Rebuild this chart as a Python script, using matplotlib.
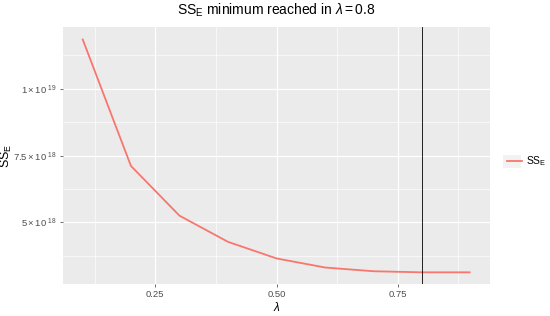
import matplotlib
matplotlib.use("Agg")
import matplotlib.pyplot as plt
from matplotlib.lines import Line2D
from matplotlib.patches import Rectangle
from matplotlib.ticker import FixedLocator

plt.rcParams["font.family"] = ["Liberation Sans", "DejaVu Sans"]
plt.rcParams["mathtext.fontset"] = "custom"
plt.rcParams["mathtext.rm"] = "Liberation Sans"
plt.rcParams["mathtext.it"] = "Liberation Sans:italic"
plt.rcParams["mathtext.bf"] = "Liberation Sans:bold"

lam = [0.1, 0.2, 0.3, 0.4, 0.5, 0.6, 0.7, 0.8, 0.9]
sse = [1.187e19, 7.11e18, 5.25e18, 4.27e18, 3.65e18, 3.31e18, 3.17e18, 3.13e18, 3.13e18]
best_lambda = 0.8
x_ticks = [0.25, 0.50, 0.75]
x_tick_labels = ["0.25", "0.50", "0.75"]
y_ticks = [5e18, 7.5e18, 1e19]
y_tick_labels = [r"$\mathrm{5\times10}^{\ 18}$", r"$\mathrm{7.5\times10}^{\ 18}$",
                 r"$\mathrm{1\times10}^{\ 19}$"]

W, H = 550, 316
fig = plt.figure(figsize=(W / 100, H / 100), dpi=100)
L, R, T, B = 63, 490, 27, 284
ax = fig.add_axes([L / W, 1 - B / H, (R - L) / W, (B - T) / H])
ax.set_facecolor("#EBEBEB")
for s in ax.spines.values():
    s.set_visible(False)

ax.plot(lam, sse, color="#F8766D", lw=1.3, solid_capstyle="butt", zorder=3)
ax.axvline(best_lambda, color="black", lw=0.6, zorder=4)

xr = max(lam) - min(lam)
ax.set_xlim(min(lam) - 0.05 * xr, max(lam) + 0.05 * xr)
yr = max(sse) - min(sse)
ax.set_ylim(min(sse) - 0.05 * yr, max(sse) + 0.05 * yr)

ax.set_xticks(x_ticks)
ax.set_xticklabels(x_tick_labels)
ax.set_yticks(y_ticks)
ax.set_yticklabels(y_tick_labels)
ax.xaxis.set_minor_locator(FixedLocator([0.125, 0.375, 0.625, 0.875]))
ax.yaxis.set_minor_locator(FixedLocator([3.75e18, 6.25e18, 8.75e18, 1.125e19]))
ax.grid(which="major", color="white", lw=0.9)
ax.grid(which="minor", color="white", lw=0.45)
ax.set_axisbelow(True)
ax.tick_params(which="major", length=2.5, width=0.5, color="#333333",
               labelsize=6.8, labelcolor="#4D4D4D", pad=2)
ax.tick_params(which="minor", length=0)

ax.set_xlabel(r"$\lambda$", fontsize=8.5, color="black", labelpad=1)
ax.set_ylabel(r"$\mathrm{SS}_{\mathrm{E}}$", fontsize=9, color="black")
ax.yaxis.set_label_coords((14 - L) / (R - L), 0.5)
ax.set_title(r"$\mathrm{SS}_{\mathrm{E}}$ minimum reached in $\lambda = 0.8$",
             fontsize=10, color="black", pad=9)

fig.patches.append(Rectangle((503 / W, 1 - 168 / H), 18 / W, 13 / H,
                             transform=fig.transFigure, facecolor="#F2F2F2",
                             edgecolor="none", zorder=0))
handle = Line2D([], [], color="#F8766D", lw=1.3)
leg = fig.legend([handle], [r"$\mathrm{SS}_{\mathrm{E}}$"], loc="center left",
                 bbox_to_anchor=(498 / W, 1 - 161.5 / H), frameon=False,
                 fontsize=7.5, handlelength=1.45, handletextpad=0.35)
fig.savefig("out.png", dpi=100)
